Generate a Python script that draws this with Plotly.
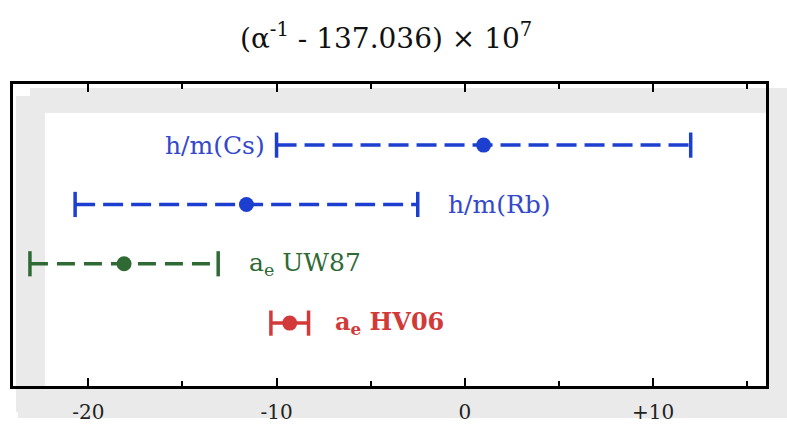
import plotly.graph_objects as go

# ---- data ----
labels = ["h/m(Cs)", "h/m(Rb)", "a<sub>e</sub> UW87", "a<sub>e</sub> HV06"]
centers = [1.0, -11.6, -18.1, -9.3]
errors = [11.0, 9.1, 5.0, 1.0]
rows = [4, 3, 2, 1]
colors = ["#1d3fcf", "#1d3fcf", "#2f6a34", "#d23a3a"]
text_colors = ["#3448cc", "#3448cc", "#2f6a34", "#d23a3a"]
dashes = ["20px,8px", "20px,8px", "18px,9px", "solid"]
tick_vals = [-20, -10, 0, 10]
tick_text = ["-20", "-10", "0", "+10"]
title_text = "(α<sup>-1</sup> - 137.036) × 10<sup>7</sup>"

# body margin removed by post_script; work in screenshot pixels
W, H = 787, 425
L, R, T, B = 13, 21, 84, 39
PW, PH = W - L - R, H - T - B


def px(x):
    return (x - L) / PW


def py(y):
    return (H - B - y) / PH


fig = go.Figure()

for lab, c, e, r, col, d in zip(labels, centers, errors, rows, colors, dashes):
    # dashed / solid span
    fig.add_trace(go.Scatter(x=[c - e, c + e], y=[r, r], mode="lines",
                             line=dict(color=col, width=3.5, dash=d),
                             hoverinfo="skip", showlegend=False))
    # caps
    fig.add_trace(go.Scatter(x=[c - e, c + e], y=[r, r], mode="markers",
                             marker=dict(symbol="line-ns", size=18,
                                         line=dict(color=col, width=3.5)),
                             hoverinfo="skip", showlegend=False))
    # central value
    fig.add_trace(go.Scatter(x=[c], y=[r], mode="markers",
                             marker=dict(symbol="circle", size=15, color=col),
                             showlegend=False))

# labels
ann = []
lab_pos = [("left", 0, -10, "right"), ("right", 1, 28, "left"),
           ("right", 2, 29, "left"), ("right", 3, 24, "left")]
for (side, i, shift, anchor) in lab_pos:
    c, e = centers[i], errors[i]
    x = c - e if side == "left" else c + e
    bold = i == 3
    txt = f"<b>{labels[i]}</b>" if bold else labels[i]
    ann.append(dict(x=x, y=rows[i], xref="x", yref="y", text=txt,
                    showarrow=False, xanchor=anchor, yanchor="middle",
                    xshift=shift,
                    font=dict(family="DejaVu Serif", size=25 if not bold else 24,
                              color=text_colors[i])))
ann.append(dict(x=px(386), y=py(37), xref="paper", yref="paper", text=title_text,
                showarrow=False, xanchor="center", yanchor="middle",
                font=dict(family="DejaVu Serif", size=28, color="#111")))

GRAY = "#eaeaea"
shapes = [
    # top band (inside frame and beyond to the right)
    dict(type="rect", xref="paper", yref="paper", layer="below",
         x0=px(30), x1=px(787), y0=py(88), y1=py(114),
         fillcolor=GRAY, line=dict(width=0)),
    # right band outside frame
    dict(type="rect", xref="paper", yref="paper", layer="below",
         x0=px(760), x1=px(787), y0=py(95), y1=py(418),
         fillcolor=GRAY, line=dict(width=0)),
    # bottom band below frame
    dict(type="rect", xref="paper", yref="paper", layer="below",
         x0=px(18), x1=px(787), y0=py(380), y1=py(418),
         fillcolor=GRAY, line=dict(width=0)),
    # left band inside frame
    dict(type="rect", xref="paper", yref="paper", layer="below",
         x0=px(16), x1=px(46), y0=py(96), y1=py(412),
         fillcolor=GRAY, line=dict(width=0)),
    # white inner card
    dict(type="rect", xref="paper", yref="paper", layer="below",
         x0=px(45), x1=px(766), y0=py(113), y1=py(386),
         fillcolor="white", line=dict(width=0)),
]

fig.update_layout(
    width=W, height=H,
    margin=dict(l=L, r=R, t=T, b=B, autoexpand=False),
    paper_bgcolor="white", plot_bgcolor="rgba(0,0,0,0)",
    annotations=ann, shapes=shapes,
    xaxis=dict(range=[-24, 16], tickvals=tick_vals, ticktext=tick_text,
               automargin=False,
               ticks="inside", ticklen=8, tickwidth=2, tickcolor="black",
               showline=True, linecolor="black", linewidth=3, mirror="ticks",
               showgrid=False, zeroline=False,
               tickfont=dict(family="DejaVu Serif", size=20, color="#222"),
               ticklabelstandoff=6,
               minor=dict(dtick=5, tick0=0, ticks="inside", ticklen=5,
                          tickwidth=2, tickcolor="black", showgrid=False)),
    yaxis=dict(range=[-0.06, 5.03], showticklabels=False, ticks="",
               automargin=False,
               showline=True, linecolor="black", linewidth=3, mirror=True,
               showgrid=False, zeroline=False),
)

fig.write_html("out.html",
               config={"displayModeBar": False},
               post_script="document.body.style.margin='0';"
                           "document.body.style.overflow='hidden';")
